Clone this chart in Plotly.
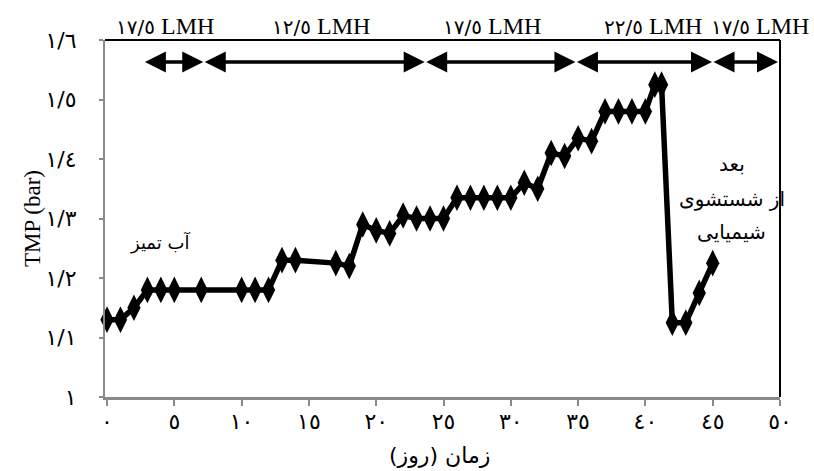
import plotly.graph_objects as go

# ---- data ----
days = [0, 1, 2, 3, 4, 5, 7, 10, 11, 12, 13, 14, 17, 18, 19, 20, 21, 22, 23, 24, 25,
        26, 27, 28, 29, 30, 31, 32, 33, 34, 35, 36, 37, 38, 39, 40, 40.7, 41.2,
        42, 43, 44, 45]
tmp = [1.13, 1.13, 1.15, 1.18, 1.18, 1.18, 1.18, 1.18, 1.18, 1.18, 1.23, 1.23, 1.225, 1.22,
       1.29, 1.28, 1.275, 1.305, 1.30, 1.30, 1.30,
       1.335, 1.335, 1.335, 1.335, 1.335, 1.36, 1.35, 1.41, 1.405, 1.435, 1.43,
       1.48, 1.48, 1.48, 1.48, 1.525, 1.525,
       1.125, 1.125, 1.175, 1.225]

x_tickvals = [0, 5, 10, 15, 20, 25, 30, 35, 40, 45, 50]
x_ticktext = ["٠", "٥", "١٠", "١٥", "٢٠", "٢٥", "٣٠", "٣٥", "٤٠", "٤٥", "٥٠"]
y_tickvals = [1.0, 1.1, 1.2, 1.3, 1.4, 1.5, 1.6]
y_ticktext = ["١", "١/١", "١/٢", "١/٣", "١/٤", "١/٥", "١/٦"]

phase_bounds = [2.7, 7.15, 23.6, 34.8, 44.95, 49.85]
phase_flux = ["١٧/٥", "١٢/٥", "١٧/٥", "٢٢/٥", "١٧/٥"]
phase_unit = "LMH"
phase_label_x = [4.3, 15.9, 28.6, 40.6, 48.5]
phase_arrow_y = 1.563

x_title = "زمان (روز)"
y_title = "TMP (bar)"
note_clean = "آب تمیز"
note_after = ["بعد", "از شستشوی", "شیمیایی"]

SERIF = "Liberation Serif, Times New Roman, serif"
ARAB = "DejaVu Sans, sans-serif"

fig = go.Figure()
fig.add_trace(go.Scatter(
    x=days, y=tmp, mode="lines+markers",
    line=dict(color="black", width=5.5),
    marker=dict(symbol="diamond-tall", size=19, color="black"),
    showlegend=False, cliponaxis=False,
))

annotations = []
for i in range(len(phase_flux)):
    annotations.append(dict(
        x=phase_bounds[i + 1], y=phase_arrow_y, ax=phase_bounds[i], ay=phase_arrow_y,
        xref="x", yref="y", axref="x", ayref="y", text="",
        showarrow=True, arrowside="end+start", arrowhead=2, startarrowhead=2,
        arrowsize=1.2, startarrowsize=1.2, arrowwidth=3.5, arrowcolor="black",
    ))
    last = i == len(phase_flux) - 1
    annotations.append(dict(
        x=1.046 if last else phase_label_x[i], y=1.038,
        xref="paper" if last else "x", yref="paper",
        text=f"<span style='font-family:{ARAB};font-size:20px'>{phase_flux[i]}</span> "
             f"<span style='font-family:{SERIF}'>{phase_unit}</span>",
        showarrow=False, font=dict(family=SERIF, size=24, color="black"),
        xanchor="right" if last else "center", yanchor="middle",
    ))

annotations.append(dict(x=3.9, y=1.259, xref="x", yref="y", text=note_clean,
                        showarrow=False, font=dict(family=ARAB, size=18, color="black")))
for txt, yy in zip(note_after, [1.392, 1.333, 1.277]):
    annotations.append(dict(x=46.4, y=yy, xref="x", yref="y", text=txt,
                            showarrow=False, font=dict(family=ARAB, size=20, color="black")))

annotations.append(dict(x=-0.129, y=0.5, xref="paper", yref="paper", text=y_title,
                        textangle=-90, showarrow=False,
                        font=dict(family=SERIF, size=23, color="black")))
annotations.append(dict(x=0.496, y=-0.1625, xref="paper", yref="paper", text=x_title,
                        showarrow=False, font=dict(family=ARAB, size=22, color="black"),
                        yanchor="middle"))

fig.update_layout(
    width=814, height=471,
    margin=dict(l=105, r=34, t=40, b=74),
    paper_bgcolor="white", plot_bgcolor="white",
    annotations=annotations,
    shapes=[
        dict(type="line", xref="paper", yref="paper", x0=0, x1=1, y0=1, y1=1,
             line=dict(color="black", width=2)),
        dict(type="line", xref="paper", yref="paper", x0=1, x1=1, y0=0, y1=1,
             line=dict(color="black", width=2)),
    ],
    xaxis=dict(range=[-0.15, 50], tickvals=x_tickvals, ticktext=x_ticktext,
               showgrid=False, zeroline=False, showline=True, linecolor="#8a8a8a",
               linewidth=3, ticks="outside", ticklen=6, tickwidth=2, tickcolor="#8a8a8a",
               ticklabelstandoff=-3,
               tickfont=dict(family=ARAB, size=22, color="black")),
    yaxis=dict(range=[1.0, 1.6], tickvals=y_tickvals, ticktext=y_ticktext,
               showgrid=False, zeroline=False, showline=True, linecolor="#8a8a8a",
               linewidth=2, ticks="outside", ticklen=4, tickwidth=2, tickcolor="#8a8a8a",
               ticklabelstandoff=18,
               tickfont=dict(family=ARAB, size=22, color="black")),
)

fig.write_html("out.html")
